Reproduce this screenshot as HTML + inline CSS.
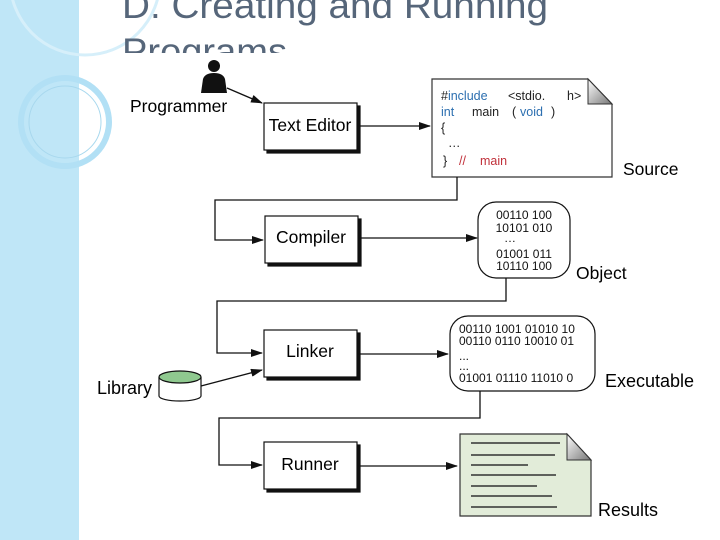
<!DOCTYPE html>
<html><head><meta charset="utf-8"><style>
html,body{margin:0;padding:0;background:#fff;width:720px;height:540px;overflow:hidden}
svg text{font-family:"Liberation Sans",sans-serif}
</style></head><body>
<svg width="720" height="540" viewBox="0 0 720 540" xmlns="http://www.w3.org/2000/svg">
<defs>
<marker id="ah" markerWidth="12" markerHeight="8" refX="11" refY="4" orient="auto" markerUnits="userSpaceOnUse"><path d="M0,0 L12,4 L0,8 z" fill="#111"/></marker>
<clipPath id="tc"><rect x="0" y="0" width="720" height="53"/></clipPath>
<linearGradient id="fold" x1="0" y1="0" x2="1" y2="1"><stop offset="0" stop-color="#fff"/><stop offset="1" stop-color="#777"/></linearGradient>
</defs>
<rect x="0" y="0" width="79" height="540" fill="#bfe6f7"/>
<circle cx="85" cy="-20" r="75" fill="none" stroke="#d6effa" stroke-width="3"/>
<circle cx="65" cy="122" r="44" fill="none" stroke="#b2e0f5" stroke-width="6"/>
<circle cx="65" cy="122" r="36" fill="none" stroke="#a8d8ee" stroke-width="1"/>
<g clip-path="url(#tc)" fill="#56667a" font-size="37">
<text x="122" y="18" textLength="426" lengthAdjust="spacingAndGlyphs">D. Creating and Running</text>
<text x="122" y="64" textLength="165" lengthAdjust="spacingAndGlyphs">Programs</text>
</g>
<!-- programmer -->
<circle cx="214" cy="66" r="6" fill="#111"/>
<path d="M201,93 L203,79 Q205,73 214,73 Q223,73 225,79 L227,93 Z" fill="#111"/>
<text x="130" y="112" font-size="17.5">Programmer</text>
<line x1="227" y1="88" x2="262" y2="103" stroke="#111" stroke-width="1.3" marker-end="url(#ah)"/>
<!-- boxes -->
<g stroke="#111" stroke-width="1.2">
<rect x="267" y="106" width="93" height="47" fill="#111"/>
<rect x="264" y="103" width="93" height="47" fill="#fff"/>
<rect x="268" y="219" width="93" height="47" fill="#111"/>
<rect x="265" y="216" width="93" height="47" fill="#fff"/>
<rect x="267" y="333" width="93" height="47" fill="#111"/>
<rect x="264" y="330" width="93" height="47" fill="#fff"/>
<rect x="267" y="445" width="93" height="47" fill="#111"/>
<rect x="264" y="442" width="93" height="47" fill="#fff"/>
</g>
<g font-size="17.5" text-anchor="middle">
<text x="310" y="131">Text Editor</text>
<text x="311" y="243">Compiler</text>
<text x="310" y="357">Linker</text>
<text x="310" y="470">Runner</text>
</g>
<!-- source doc -->
<path d="M432,79 L588,79 L612,104 L612,177 L432,177 Z" fill="#fff" stroke="#333" stroke-width="1.2"/>
<path d="M588,79 L588,104 L612,104 Z" fill="url(#fold)" stroke="#333"/>
<g font-size="12.5">
<text x="441" y="100"><tspan fill="#222">#</tspan><tspan fill="#2c6fb0">include</tspan><tspan fill="#222" x="508">&lt;stdio.</tspan><tspan fill="#222" x="567">h&gt;</tspan></text>
<text x="441" y="116" fill="#2c6fb0">int<tspan fill="#222" x="472">main</tspan><tspan fill="#222" x="512">(</tspan><tspan x="520">void</tspan><tspan fill="#222" x="551">)</tspan></text>
<text x="441" y="132" fill="#222">{</text>
<text x="448" y="147" fill="#222">…</text>
<text x="443" y="165" fill="#222">}<tspan fill="#c0303a" x="459">//</tspan><tspan fill="#c0303a" x="480">main</tspan></text>
</g>
<text x="623" y="175" font-size="17.5">Source</text>
<!-- connectors -->
<g fill="none" stroke="#111" stroke-width="1.3">
<line x1="357" y1="126" x2="430" y2="126" marker-end="url(#ah)"/>
<polyline points="457,177 457,200 215,200 215,240 263,240" marker-end="url(#ah)"/>
<line x1="358" y1="238" x2="477" y2="238" marker-end="url(#ah)"/>
<polyline points="506,277 506,301 217,301 217,353 262,353" marker-end="url(#ah)"/>
<line x1="358" y1="354" x2="448" y2="354" marker-end="url(#ah)"/>
<polyline points="480,391 480,418 219,418 219,465 262,465" marker-end="url(#ah)"/>
<line x1="358" y1="466" x2="457" y2="466" marker-end="url(#ah)"/>
<line x1="201" y1="386" x2="262" y2="370" marker-end="url(#ah)"/>
</g>
<!-- object -->
<rect x="478" y="202" width="92" height="76" rx="18" fill="#fff" stroke="#111" stroke-width="1.2"/>
<g font-size="12" text-anchor="middle" fill="#111">
<text x="524" y="219">00110 100</text>
<text x="524" y="232">10101 010</text>
<text x="510" y="242">…</text>
<text x="524" y="258">01001 011</text>
<text x="524" y="270">10110 100</text>
</g>
<text x="576" y="279" font-size="17.5">Object</text>
<!-- executable -->
<rect x="450" y="316" width="145" height="75" rx="18" fill="#fff" stroke="#111" stroke-width="1.2"/>
<g font-size="12" fill="#111">
<text x="459" y="333">00110 1001 01010 10</text>
<text x="459" y="345">00110 0110 10010 01</text>
<text x="459" y="360">...</text>
<text x="459" y="370">...</text>
<text x="459" y="382">01001 01110 11010 0</text>
</g>
<text x="605" y="387" font-size="18">Executable</text>
<!-- library -->
<path d="M159,377 L159,396 A21,5 0 0 0 201,396 L201,377" fill="#fff" stroke="#111" stroke-width="1.2"/>
<ellipse cx="180" cy="377" rx="21" ry="6" fill="#8fc98f" stroke="#111" stroke-width="1.2"/>
<text x="97" y="394" font-size="18">Library</text>
<!-- results -->
<path d="M460,434 L567,434 L591,460 L591,516 L460,516 Z" fill="#e2ecd9" stroke="#333" stroke-width="1.2"/>
<path d="M567,434 L567,460 L591,460 Z" fill="url(#fold)" stroke="#333"/>
<g stroke="#333" stroke-width="1.5">
<line x1="471" y1="443" x2="560" y2="443"/>
<line x1="471" y1="455" x2="555" y2="455"/>
<line x1="471" y1="465" x2="528" y2="465"/>
<line x1="471" y1="475" x2="556" y2="475"/>
<line x1="471" y1="486" x2="537" y2="486"/>
<line x1="471" y1="496" x2="552" y2="496"/>
<line x1="471" y1="507" x2="557" y2="507"/>
</g>
<text x="598" y="516" font-size="18">Results</text>
</svg>
</body></html>
